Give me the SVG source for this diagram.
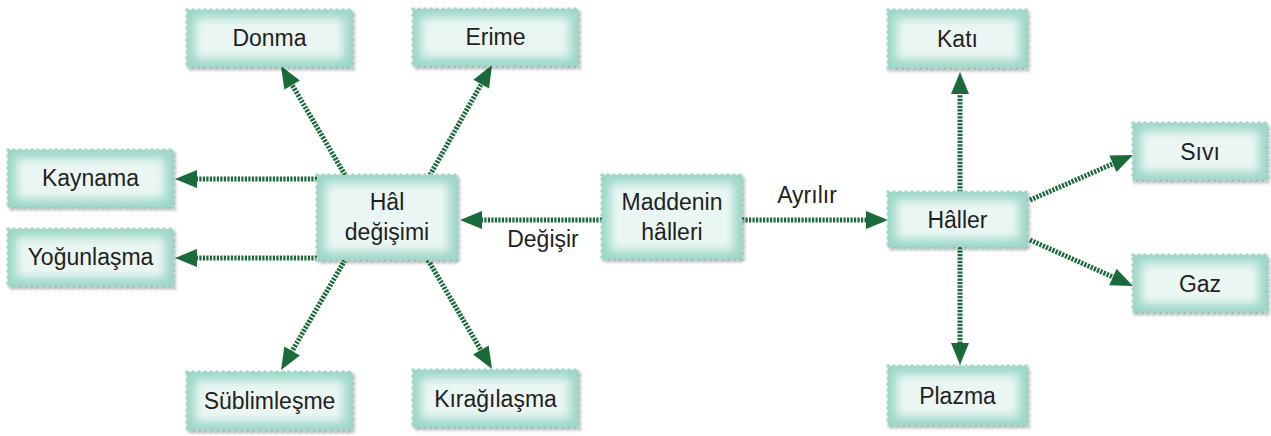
<svg xmlns="http://www.w3.org/2000/svg" width="1271" height="436" viewBox="0 0 1271 436">
  <defs>
    <filter id="shadow" x="-10%" y="-20%" width="130%" height="150%">
      <feDropShadow dx="1.5" dy="2" stdDeviation="1.5" flood-color="#000" flood-opacity="0.35"/>
    </filter>
    <filter id="blur" x="-50%" y="-50%" width="200%" height="200%">
      <feGaussianBlur stdDeviation="5"/>
    </filter>
    <marker id="head" markerUnits="userSpaceOnUse" markerWidth="24" markerHeight="20" refX="1" refY="9" orient="auto" overflow="visible">
      <path d="M0,0 L22,9 L0,18 z" fill="#1a6a3a"/>
    </marker>
    <style>
      .box { fill:#9dd7c9; stroke:#9dd7c9; stroke-width:3.5; stroke-dasharray:0 6; stroke-linecap:round; filter:url(#shadow); }
      .glow { fill:#eaf6f3; filter:url(#blur); }
      .label { font-family:"Liberation Sans", Arial, sans-serif; font-size:23px; fill:#231f20; text-anchor:middle; }
      .link { fill:none; stroke:#1a6a3a; stroke-width:5; stroke-dasharray:2.2 1.3; marker-end:url(#head); }
    </style>
  </defs>

  <!-- connectors -->
  <g id="connectors">
    <line class="link" x1="345" y1="175" x2="291.6" y2="84.1"/>
    <line class="link" x1="430" y1="175" x2="481.7" y2="83.3"/>
    <line class="link" x1="317" y1="179" x2="196" y2="179"/>
    <line class="link" x1="317" y1="258" x2="196" y2="258"/>
    <line class="link" x1="345" y1="260" x2="291.6" y2="351.9"/>
    <line class="link" x1="428" y1="260" x2="481.4" y2="350.9"/>
    <line class="link" x1="602" y1="220" x2="481" y2="220"/>
    <line class="link" x1="742" y1="220" x2="867" y2="220"/>
    <line class="link" x1="960" y1="192" x2="960" y2="93"/>
    <line class="link" x1="960" y1="247" x2="960" y2="344"/>
    <line class="link" x1="1030" y1="200" x2="1113.8" y2="163.4"/>
    <line class="link" x1="1030" y1="240" x2="1113.8" y2="277.4"/>
    <text class="label" x="543" y="247">Değişir</text>
    <text class="label" x="807" y="203">Ayrılır</text>
  </g>

  <g id="node-donma">
    <rect class="box" x="187" y="10" width="165" height="57"/>
    <rect class="glow" x="195" y="18" width="149" height="41"/>
    <text class="label" x="269.5" y="46">Donma</text>
  </g>
  <g id="node-erime">
    <rect class="box" x="413" y="9" width="165" height="57"/>
    <rect class="glow" x="421" y="17" width="149" height="41"/>
    <text class="label" x="495.5" y="45">Erime</text>
  </g>
  <g id="node-kaynama">
    <rect class="box" x="8" y="150" width="165" height="57"/>
    <rect class="glow" x="16" y="158" width="149" height="41"/>
    <text class="label" x="90.5" y="186">Kaynama</text>
  </g>
  <g id="node-yogunlasma">
    <rect class="box" x="8" y="229" width="165" height="57"/>
    <rect class="glow" x="16" y="237" width="149" height="41"/>
    <text class="label" x="90.5" y="265">Yoğunlaşma</text>
  </g>
  <g id="node-hal-degisimi">
    <rect class="box" x="317" y="175" width="140" height="85"/>
    <rect class="glow" x="325" y="183" width="124" height="69"/>
    <text class="label" x="387" y="210">Hâl</text>
    <text class="label" x="387" y="240">değişimi</text>
  </g>
  <g id="node-maddenin-halleri">
    <rect class="box" x="602" y="175" width="140" height="84"/>
    <rect class="glow" x="610" y="183" width="124" height="68"/>
    <text class="label" x="672" y="210">Maddenin</text>
    <text class="label" x="672" y="240">hâlleri</text>
  </g>
  <g id="node-haller">
    <rect class="box" x="888" y="192" width="139" height="55"/>
    <rect class="glow" x="896" y="200" width="123" height="39"/>
    <text class="label" x="957.5" y="227.5">Hâller</text>
  </g>
  <g id="node-kati">
    <rect class="box" x="888" y="10" width="139" height="58"/>
    <rect class="glow" x="896" y="18" width="123" height="42"/>
    <text class="label" x="957.5" y="47">Katı</text>
  </g>
  <g id="node-sivi">
    <rect class="box" x="1133" y="123" width="134" height="57"/>
    <rect class="glow" x="1141" y="131" width="118" height="41"/>
    <text class="label" x="1200" y="160">Sıvı</text>
  </g>
  <g id="node-gaz">
    <rect class="box" x="1133" y="255" width="134" height="57"/>
    <rect class="glow" x="1141" y="263" width="118" height="41"/>
    <text class="label" x="1200" y="292">Gaz</text>
  </g>
  <g id="node-plazma">
    <rect class="box" x="888" y="366" width="139" height="59"/>
    <rect class="glow" x="896" y="374" width="123" height="43"/>
    <text class="label" x="957.5" y="404">Plazma</text>
  </g>
  <g id="node-sublimlesme">
    <rect class="box" x="187" y="372" width="165" height="58"/>
    <rect class="glow" x="195" y="380" width="149" height="42"/>
    <text class="label" x="269.5" y="409">Süblimleşme</text>
  </g>
  <g id="node-kiragilasma">
    <rect class="box" x="413" y="370" width="165" height="57"/>
    <rect class="glow" x="421" y="378" width="149" height="41"/>
    <text class="label" x="495.5" y="407">Kırağılaşma</text>
  </g>
</svg>
